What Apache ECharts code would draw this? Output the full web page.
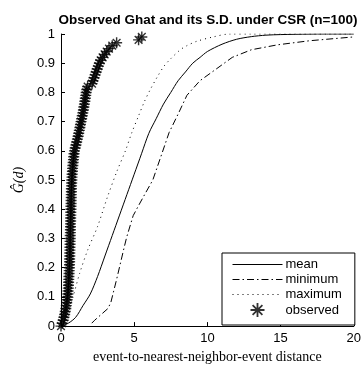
<!DOCTYPE html>
<html>
<head>
<meta charset="utf-8">
<script src="https://cdn.jsdelivr.net/npm/echarts@6/dist/echarts.min.js"></script>
<style>
html, body { margin: 0; padding: 0; background: #fff; }
#main { width: 364px; height: 369px; }
</style>
</head>
<body>
<div id="main"></div>
<script>
// 平均值曲线 (mean of simulations under CSR)
var meanD = [0, 0.5, 1, 1.5, 2, 2.5, 3, 3.5, 4, 4.5, 5, 5.5, 6, 6.5, 7, 7.5, 8, 8.5, 9, 9.5, 10, 11, 12, 13, 14, 15, 16, 18, 20];
var meanG = [0, 0.01, 0.03, 0.07, 0.11, 0.17, 0.24, 0.31, 0.38, 0.45, 0.52, 0.59, 0.66, 0.71, 0.76, 0.80, 0.84, 0.87, 0.90, 0.92, 0.94, 0.965, 0.982, 0.991, 0.996, 0.998, 0.999, 1, 1];
// 最小值
var minD = [2.1, 2.3, 3.2, 3.4, 3.6, 3.8, 4.27, 4.49, 4.93, 5.27, 5.71, 6.27, 6.82, 7.38, 8.04, 8.6, 9.49, 10.6, 11.7, 13.0, 14.8, 17.0, 20];
var minG = [0.01, 0.02, 0.06, 0.08, 0.12, 0.16, 0.26, 0.305, 0.378, 0.41, 0.45, 0.50, 0.58, 0.662, 0.73, 0.79, 0.84, 0.88, 0.92, 0.946, 0.963, 0.977, 0.99];
// 最大值
var maxD = [0.1, 0.5, 0.82, 1.27, 1.82, 2.49, 3.16, 3.82, 4.4, 4.82, 5.3, 5.71, 6.1, 6.6, 7.04, 7.49, 8.15, 8.6, 9.27, 10.4, 11.5, 13, 20];
var maxG = [0, 0.05, 0.10, 0.18, 0.26, 0.34, 0.44, 0.53, 0.60, 0.66, 0.72, 0.77, 0.81, 0.855, 0.89, 0.915, 0.946, 0.96, 0.975, 0.99, 1, 1, 1];
// 观测值 (n=100)
var obsD = [
	0.00, 0.08, 0.15, 0.20, 0.25, 0.29, 0.33, 0.36, 0.39, 0.42,
	0.45, 0.47, 0.48, 0.50, 0.51, 0.52, 0.53, 0.54, 0.55, 0.56,
	0.57, 0.58, 0.59, 0.59, 0.60, 0.60, 0.61, 0.61, 0.62, 0.62,
	0.63, 0.63, 0.64, 0.64, 0.65, 0.65, 0.66, 0.66, 0.67, 0.67,
	0.68, 0.68, 0.69, 0.69, 0.70, 0.70, 0.71, 0.71, 0.72, 0.73,
	0.74, 0.75, 0.76, 0.78, 0.79, 0.81, 0.83, 0.85, 0.87, 0.89,
	0.92, 0.97, 1.02, 1.07, 1.12, 1.17, 1.21, 1.25, 1.29, 1.33,
	1.37, 1.41, 1.45, 1.49, 1.53, 1.56, 1.60, 1.63, 1.66, 1.69,
	1.72, 1.76, 1.82, 2.12, 2.18, 2.26, 2.33, 2.40, 2.47, 2.55,
	2.62, 2.71, 2.84, 2.98, 3.12, 3.28, 3.50, 3.80, 5.30, 5.52
];
var obsG = [
	0.00, 0.01, 0.02, 0.03, 0.04, 0.05, 0.06, 0.07, 0.08, 0.09,
	0.10, 0.11, 0.12, 0.13, 0.14, 0.15, 0.16, 0.17, 0.18, 0.19,
	0.20, 0.21, 0.22, 0.23, 0.24, 0.25, 0.26, 0.27, 0.28, 0.29,
	0.30, 0.31, 0.32, 0.33, 0.34, 0.35, 0.36, 0.37, 0.38, 0.39,
	0.40, 0.41, 0.42, 0.43, 0.44, 0.45, 0.46, 0.47, 0.48, 0.49,
	0.50, 0.51, 0.52, 0.53, 0.54, 0.55, 0.56, 0.57, 0.58, 0.59,
	0.60, 0.61, 0.62, 0.63, 0.64, 0.65, 0.66, 0.67, 0.68, 0.69,
	0.70, 0.71, 0.72, 0.73, 0.74, 0.75, 0.76, 0.77, 0.78, 0.79,
	0.80, 0.81, 0.82, 0.83, 0.84, 0.85, 0.86, 0.87, 0.88, 0.89,
	0.90, 0.91, 0.92, 0.93, 0.94, 0.95, 0.96, 0.97, 0.98, 0.99
];

function pairs(xs, ys) {
	var out = [];
	for (var i = 0; i < xs.length; i++) {
		out.push([xs[i], ys[i]]);
	}
	return out;
}

// 星号标记 (asterisk)
var star = 'path://M-1.3,-10L1.3,-10L1.3,10L-1.3,10Z' +
	'M-10,-1.3L10,-1.3L10,1.3L-10,1.3Z' +
	'M-6.1,-7.9L7.9,6.1L6.1,7.9L-7.9,-6.1Z' +
	'M6.1,-7.9L7.9,-6.1L-6.1,7.9L-7.9,6.1Z';
// 图例用的星号, 左右加零面积点撑开比例
var starIcon = star + 'M-35.7,0L-35.7,0Z M35.7,0L35.7,0Z';

var myChart = echarts.init(document.getElementById('main'));
var option = {
	animation: false,
	backgroundColor: '#fff',
	title: {
		text: 'Observed Ghat and its S.D. under CSR (n=100)',
		left: 203,
		textAlign: 'center',
		top: 8,
		textStyle: {
			fontFamily: 'Liberation Sans',
			fontWeight: 'bold',
			fontSize: 13.5,
			color: '#000'
		}
	},
	grid: {
		left: 61,
		top: 34,
		width: 300,
		height: 299
	},
	legend: {
		orient: 'vertical',
		left: 222,
		top: 253,
		itemWidth: 50,
		itemHeight: 14,
		itemGap: 2,
		padding: [5, 13, 8, 10],
		backgroundColor: '#fff',
		borderColor: '#000',
		borderWidth: 1,
		borderRadius: 0,
		lineStyle: { width: 1 },
		textStyle: {
			fontFamily: 'Liberation Sans',
			fontSize: 13,
			color: '#000',
			padding: [0, 0, 0, -2]
		},
		data: [
			{ name: 'mean' },
			{ name: 'minimum' },
			{ name: 'maximum' },
			{ name: 'observed', icon: starIcon }
		]
	},
	xAxis: {
		type: 'value',
		min: 0,
		max: 20,
		interval: 5,
		name: 'event-to-nearest-neighbor-event distance',
		nameLocation: 'middle',
		nameGap: 23,
		nameTextStyle: {
			fontFamily: 'Liberation Serif',
			fontSize: 14,
			color: '#000'
		},
		axisLine: { lineStyle: { color: '#000', width: 1 } },
		axisTick: { inside: true, length: 4, lineStyle: { color: '#000' } },
		axisLabel: {
			fontFamily: 'Liberation Sans',
			fontSize: 13,
			color: '#000',
			margin: 6
		},
		splitLine: { show: false }
	},
	yAxis: {
		type: 'value',
		min: 0,
		max: 1,
		interval: 0.1,
		name: 'Ĝ(d)',
		nameLocation: 'middle',
		nameRotate: 90,
		nameGap: 33,
		nameTextStyle: {
			fontFamily: 'Liberation Serif',
			fontStyle: 'italic',
			fontSize: 14,
			color: '#000'
		},
		axisLine: { show: true, lineStyle: { color: '#000', width: 1 } },
		axisTick: { show: true, inside: true, length: 4, lineStyle: { color: '#000' } },
		axisLabel: {
			fontFamily: 'Liberation Sans',
			fontSize: 13,
			color: '#000',
			margin: 6
		},
		splitLine: { show: false }
	},
	series: [{
		name: 'mean',
		type: 'line',
		symbol: 'circle',
		showSymbol: false,
		smooth: 0.3,
		data: pairs(meanD, meanG),
		lineStyle: { color: '#000', width: 1, type: 'solid' },
		itemStyle: { color: 'rgba(0,0,0,0)' }
	}, {
		name: 'minimum',
		type: 'line',
		symbol: 'circle',
		showSymbol: false,
		data: pairs(minD, minG),
		lineStyle: { color: '#000', width: 1, type: [7, 3, 1.5, 3] },
		itemStyle: { color: 'rgba(0,0,0,0)' }
	}, {
		name: 'maximum',
		type: 'line',
		symbol: 'circle',
		showSymbol: false,
		smooth: 0.3,
		data: pairs(maxD, maxG),
		lineStyle: { color: '#000', width: 1, type: [1, 4] },
		itemStyle: { color: 'rgba(0,0,0,0)' }
	}, {
		name: 'observed',
		type: 'scatter',
		symbol: star,
		symbolSize: 11,
		clip: false,
		data: pairs(obsD, obsG),
		itemStyle: { color: '#000' }
	}]
};
myChart.setOption(option);
</script>
</body>
</html>
